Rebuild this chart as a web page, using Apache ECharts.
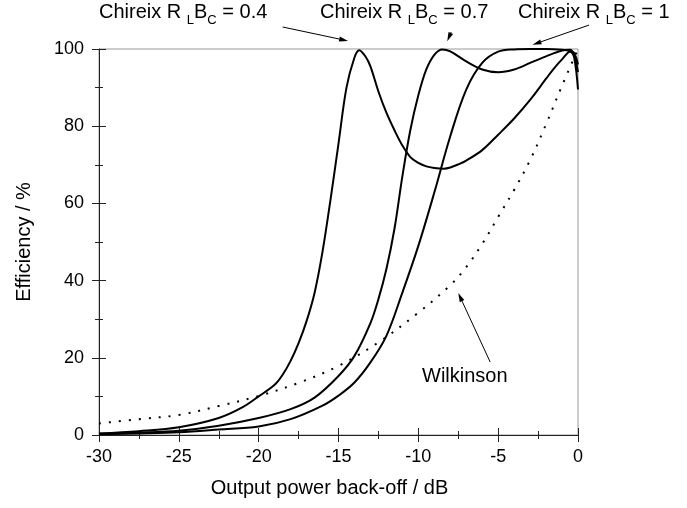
<!DOCTYPE html>
<html>
<head>
<meta charset="utf-8">
<script src="https://cdn.jsdelivr.net/npm/echarts@6/dist/echarts.min.js"></script>
<style>
html, body { margin: 0; padding: 0; background: #fff; }
#box { width: 687px; height: 508px; }
</style>
</head>
<body>
<div id="box"></div>
<script>
// values: x = output power back-off (dB), y = efficiency (%)
var rlbc04X = [-30, -27.5, -25, -22.5, -21, -20, -19, -18.5, -18, -17.5, -17, -16.5, -16, -15.5, -15, -14.5, -14, -13.7, -13.3, -13, -12.5, -12, -11.5, -11, -10.5, -10, -9.5, -9, -8.4, -8, -7.5, -7, -6, -5, -4, -3, -2, -1.5, -1, -0.5, -0.25, 0];
var rlbc04Y = [0.4, 1.0, 2.0, 4.4, 7.2, 10.0, 13.0, 15.6, 19.2, 23.8, 29.5, 36.8, 47.5, 61, 75.5, 90, 97.8, 99.7, 98, 95.5, 89, 83.5, 79, 75, 72, 70.5, 69.6, 69.2, 69.0, 69.3, 70.1, 71.1, 73.8, 77.8, 82, 86.8, 92.3, 95, 97.3, 99.3, 98, 89.5];

var rlbc07X = [-30, -27.5, -25, -22.5, -20, -18, -16.5, -15, -14, -13, -12.5, -12, -11.5, -11, -10.5, -10, -9.5, -9, -8.5, -8, -7, -6, -5, -4, -3, -2, -1, -0.5, -0.25, 0];
var rlbc07Y = [0.3, 0.6, 1.1, 2.4, 4.4, 6.7, 9.7, 15.3, 20.5, 29, 35.2, 43, 53.3, 67, 79, 88, 94.7, 98.5, 99.9, 99.4, 96.8, 94.7, 94, 94.7, 96.4, 98.1, 99.6, 99.8, 98.5, 94];

var rlbc1X = [-30, -27.5, -25, -22.5, -20, -18, -16, -15, -14, -13, -12, -11, -10, -9, -8, -7, -6, -5, -4, -3, -2, -1, -0.5, -0.25, 0];
var rlbc1Y = [0.2, 0.4, 0.7, 1.4, 2.2, 4.1, 7.6, 10.2, 13.6, 18.8, 25.7, 36.9, 49, 62.8, 77.4, 89.5, 96.4, 99.3, 99.9, 100, 100, 99.8, 99.5, 99, 96];

var wilkX = [-30, -27.5, -25, -22.5, -20, -17.5, -15, -12.5, -10, -8, -7, -6, -5, -4, -3, -2, -1, 0];
var wilkY = [3.0, 4.1, 5.2, 7.5, 10.1, 13.5, 17.9, 24, 31.7, 38.8, 43.5, 49.5, 56.5, 63.5, 71.2, 80.5, 90.5, 100];

var xTicks = { min: -30, max: 0, step: 5 };
var yTicks = { min: 0, max: 100, step: 20 };

// annotation arrows in data units: [tailX, tailY, tipX, tipY]
var arrows = [
  [-18.5, 105.7, -14.4, 102.1],
  [-7.94, 104.4, -8.19, 102.0],
  [0.69, 106.2, -2.85, 101.1],
  [-5.5, 18.9, -7.5, 36.8]
];

function pairs(xs, ys) {
  return xs.map(function (x, i) { return [x, ys[i]]; });
}

var font = "'Liberation Sans', Arial, sans-serif";
var box = document.getElementById('box');
var myChart = echarts.init(box);

function axisPair(isX, t) {
  var main = {
    type: 'value',
    min: t.min,
    max: t.max,
    interval: t.step,
    axisLine: { show: true, onZero: false, lineStyle: { color: '#222', width: 1 } },
    axisTick: { show: true, inside: false, length: 7, lineStyle: { color: '#222' } },
    minorTick: { show: true, splitNumber: 2, length: 4, lineStyle: { color: '#222' } },
    splitLine: { show: false },
    axisLabel: { color: '#000', fontSize: 18, fontFamily: font, margin: isX ? 13 : 15 },
    nameLocation: 'middle',
    nameTextStyle: { color: '#000', fontSize: 20, fontFamily: font }
  };
  // second copy only for the inward half of the crossing ticks
  var inner = JSON.parse(JSON.stringify(main));
  inner.axisLine.show = false;
  inner.axisTick.inside = true;
  inner.axisLabel = { show: false };
  if (isX) {
    main.position = 'bottom'; inner.position = 'bottom';
    main.name = 'Output power back-off / dB';
    main.nameGap = 43;
    main.nameTextStyle.padding = [0, 18, 0, 0];
  } else {
    main.position = 'left'; inner.position = 'left';
    main.name = 'Efficiency / %';
    main.nameGap = 65;
  }
  return [main, inner];
}

var solid = { color: '#000', width: 2 };
function curve(name, xs, ys, style) {
  return { name: name, type: 'line', data: pairs(xs, ys), smooth: 0.35, showSymbol: false, lineStyle: style };
}

var option = {
  animation: false,
  grid: { left: 99, right: 109, top: 49, bottom: 73, show: true, borderColor: '#999', borderWidth: 1, backgroundColor: 'transparent' },
  xAxis: axisPair(true, xTicks),
  yAxis: axisPair(false, yTicks),
  series: [
    curve('RLBC 0.4', rlbc04X, rlbc04Y, solid),
    curve('RLBC 0.7', rlbc07X, rlbc07Y, solid),
    curve('RLBC 1', rlbc1X, rlbc1Y, solid),
    curve('Wilkinson', wilkX, wilkY, { color: '#000', width: 2, type: [2, 8] })
  ]
};
myChart.setOption(option);

var rich = {
  m: { fontSize: 20, fontFamily: font, color: '#000', verticalAlign: 'top', lineHeight: 20 },
  s: { fontSize: 13, fontFamily: font, color: '#000', verticalAlign: 'top', lineHeight: 13, padding: [12, 0, 0, 0] }
};
function label(x, y, val) {
  return {
    type: 'text', left: x, top: y,
    style: { text: '{m|Chireix R }{s|L}{m|B}{s|C}{m| = ' + val + '}', rich: rich }
  };
}

var elements = [
  label(99, 2, '0.4'),
  label(320, 2, '0.7'),
  label(518, 2, '1'),
  { type: 'text', left: 422, top: 366, style: { text: 'Wilkinson', fontSize: 20, fontFamily: font, fill: '#000' } }
];

arrows.forEach(function (a) {
  var p0 = myChart.convertToPixel({ gridIndex: 0 }, [a[0], a[1]]);
  var p1 = myChart.convertToPixel({ gridIndex: 0 }, [a[2], a[3]]);
  var dx = p1[0] - p0[0], dy = p1[1] - p0[1];
  var len = Math.sqrt(dx * dx + dy * dy);
  var ux = dx / len, uy = dy / len;
  var hl = 9, hw = 2.5;
  var bx = p1[0] - ux * hl, by = p1[1] - uy * hl;
  elements.push({
    type: 'line', silent: true,
    shape: { x1: p0[0], y1: p0[1], x2: bx, y2: by },
    style: { stroke: '#000', lineWidth: 1 }
  });
  elements.push({
    type: 'polygon', silent: true,
    shape: { points: [[p1[0], p1[1]], [bx - uy * hw, by + ux * hw], [bx + uy * hw, by - ux * hw]] },
    style: { fill: '#000' }
  });
});

myChart.setOption({ graphic: { elements: elements } });
</script>
</body>
</html>
